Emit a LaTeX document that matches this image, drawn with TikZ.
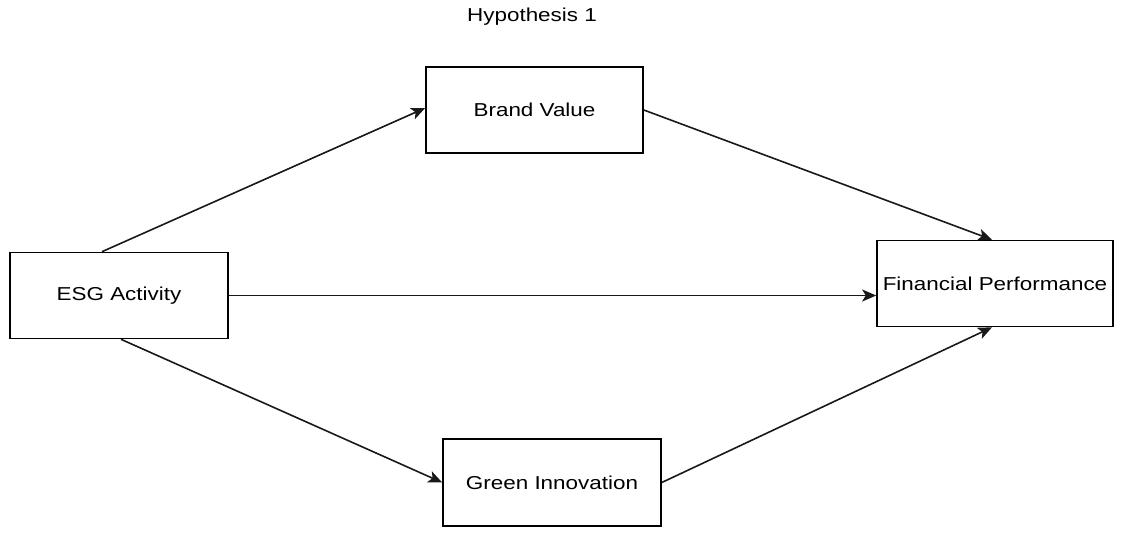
\documentclass[tikz,border=0pt]{standalone}
\usepackage{fontspec}
\setmainfont{Liberation Sans}[FakeStretch=1.2]
\usetikzlibrary{arrows.meta}
\begin{document}
\begin{tikzpicture}[x=1pt,y=-1pt,
  box/.style={draw=black,line width=1.6pt,rectangle,inner sep=0pt,minimum height=86pt,font=\fontsize{18.7}{22}\selectfont},
  conn/.style={draw=black!90,line width=1.6pt,-{Stealth[length=14pt,width=12pt,inset=3.5pt]}},
  lbl/.style={font=\fontsize{18.7}{22}\selectfont,inner sep=0pt}]
\useasboundingbox (0,0) rectangle (1123,536);
\node[lbl] (title) at (532,17) {Hypothesis 1};
\node[box,minimum width=218pt] (esg) at (119,295.5) {ESG Activity};
\node[box,minimum width=217pt] (bv) at (534.5,110) {Brand Value};
\node[box,minimum width=236pt] (fp) at (995,283.5) {Financial Performance};
\node[box,minimum width=218pt,minimum height=87pt] (gi) at (552,482.5) {Green Innovation};
\draw[conn] ([xshift=-17pt]esg.north) -- ([yshift=2pt]bv.west);
\draw[conn] (bv.east) -- ([xshift=-3pt]fp.north);
\draw[conn] (esg.east) -- (esg.east -| fp.west);
\draw[conn] ([xshift=2pt]esg.south) -- (gi.west);
\draw[conn] (gi.east) -- ([xshift=-3pt]fp.south);
\end{tikzpicture}
\end{document}
